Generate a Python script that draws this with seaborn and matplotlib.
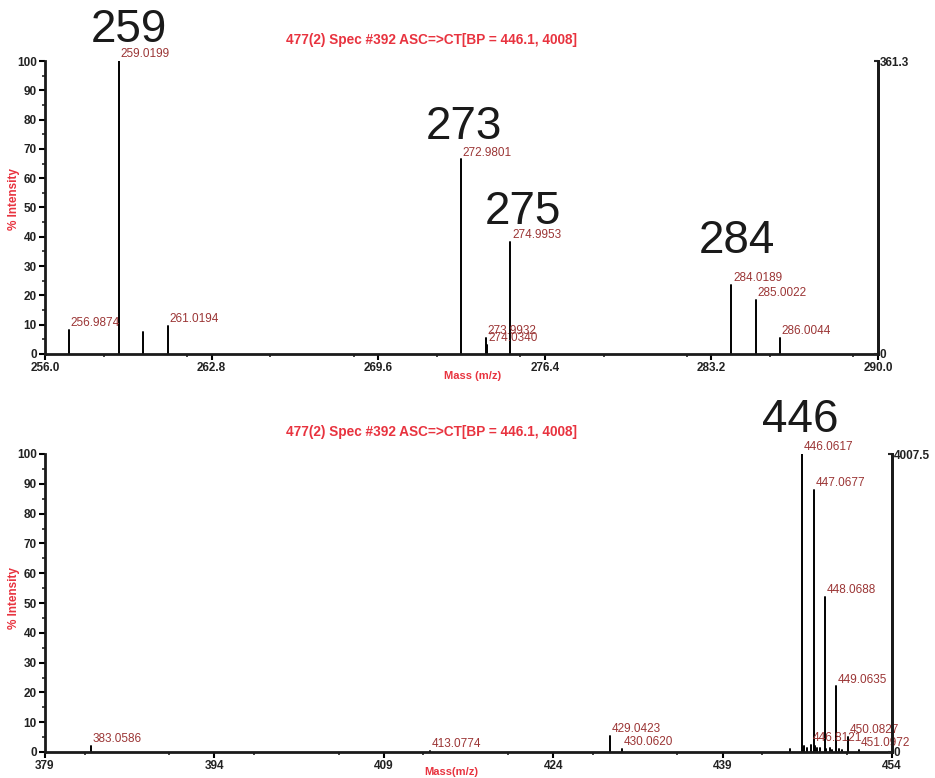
import numpy as np
import pandas as pd
import matplotlib
matplotlib.use("Agg")
import matplotlib.pyplot as plt
import seaborn as sns
from matplotlib.ticker import MultipleLocator

# top spectrum (m/z 256-290)
top_mz = [256.9874, 259.0199, 260.0, 261.0194, 272.9801, 273.9932, 274.0340,
          274.9953, 284.0189, 285.0022, 286.0044]
top_int = [8.2, 100, 7.5, 9.6, 66.4, 5.5, 3.0, 38.3, 23.5, 18.4, 5.4]
top_lab = ["256.9874", "259.0199", "", "261.0194", "272.9801", "273.9932", "274.0340",
           "274.9953", "284.0189", "285.0022", "286.0044"]
top_big = ["259", "273", "275", "284"]
top_big_x = [259.42, 273.09, 275.5, 284.23]
top_big_y = [110.5, 77.5, 48.5, 38.5]

# bottom spectrum (m/z 379-454)
bot_mz = [383.0586, 413.0774, 429.0423, 430.0620, 445.0, 446.0617, 446.2, 446.45,
          446.8121, 447.0677, 447.2, 447.4, 447.65, 448.0688, 448.2, 448.5, 448.7,
          449.0635, 449.35, 449.56, 450.0827, 451.0972]
bot_int = [2.0, 0.3, 5.5, 0.9, 1.0, 100, 2.0, 1.5, 2.5, 88, 2.0, 1.5, 1.3, 52,
           1.0, 1.5, 0.8, 22, 1.0, 0.6, 5.0, 0.8]
bot_lab = ["383.0586", "413.0774", "429.0423", "430.0620", "", "446.0617", "", "",
           "446.8121", "447.0677", "", "", "", "448.0688", "", "", "",
           "449.0635", "", "", "450.0827", "451.0972"]
bot_big = ["446"]
bot_big_x = [445.87]
bot_big_y = [111.5]

title = "477(2) Spec #392 ASC=>CT[BP = 446.1, 4008]"
red = "#e8333f"
lab_col = "#9b3535"

sns.set_style("white")
plt.rcParams["font.family"] = ["Liberation Sans", "DejaVu Sans"]

fig = plt.figure(figsize=(9.35, 7.78), dpi=100)


def stems(mz, inten):
    rows = []
    for i, (m, h) in enumerate(zip(mz, inten)):
        rows.append({"mz": m, "intensity": 0.0, "peak": i})
        rows.append({"mz": m, "intensity": h, "peak": i})
    return pd.DataFrame(rows)


def panel(rect, mz, inten, labs, big, bx, by, xlim, xmaj, xfmt, right_lab, xlabel, xl_x, xl_y, yl_y, t_y):
    ax = fig.add_axes(rect)
    df = stems(mz, inten)
    sns.lineplot(data=df, x="mz", y="intensity", units="peak", estimator=None,
                 color="black", linewidth=1.4, ax=ax, legend=False)
    ax.set_xlim(*xlim)
    ax.set_ylim(0, 100)
    ax.set_xlabel("")
    ax.set_ylabel("")
    for m, h, t in zip(mz, inten, labs):
        if t:
            ax.text(m + (xlim[1] - xlim[0]) * 0.002, h + 0.3, t, color=lab_col,
                    fontsize=8.5, ha="left", va="bottom")
    for t, x, y in zip(big, bx, by):
        ax.text(x, y, t, fontsize=33, ha="center", va="center", color="#1a1a1a",
                clip_on=False)
    ax.xaxis.set_minor_locator(MultipleLocator(xmaj / 2))
    ax.yaxis.set_major_locator(MultipleLocator(10))
    ax.yaxis.set_minor_locator(MultipleLocator(5))
    ticks = np.arange(xlim[0], xlim[1] + 0.01, xmaj)
    ax.set_xticks(ticks)
    ax.set_xticklabels([xfmt.format(v) for v in ticks])
    ax.tick_params(axis="both", which="major", direction="out", length=4, width=1.5,
                   labelsize=8.5, colors="black", pad=2, left=True, bottom=True)
    ax.tick_params(axis="both", which="minor", direction="out", length=2.5, width=1.2,
                   left=True, bottom=True)
    for lbl in ax.get_xticklabels() + ax.get_yticklabels():
        lbl.set_fontweight("bold")
        lbl.set_color("#222222")
    ax.spines["top"].set_visible(False)
    for s in ["left", "bottom", "right"]:
        ax.spines[s].set_linewidth(2)
        ax.spines[s].set_color("#1a1a1a")
    ax2 = ax.twinx()
    ax2.set_ylim(0, 100)
    ax2.set_yticks([0, 100])
    ax2.set_yticklabels(["0", right_lab])
    ax2.tick_params(axis="y", direction="in", length=3, width=1.5, labelsize=8.5, pad=1)
    for lbl in ax2.get_yticklabels():
        lbl.set_fontweight("bold")
        lbl.set_color("#222222")
    for s in ["top", "left", "bottom"]:
        ax2.spines[s].set_visible(False)
    ax2.spines["right"].set_linewidth(2)
    ax2.spines["right"].set_color("#1a1a1a")
    fig.text(xl_x / 935, 1 - xl_y / 778, xlabel, color=red, fontsize=8,
             fontweight="bold", ha="center", va="center")
    fig.text(14 / 935, 1 - yl_y / 778, "% Intensity", color=red, fontsize=8.5,
             fontweight="bold", ha="center", va="center", rotation=90)
    fig.text(432 / 935, 1 - t_y / 778, title, color=red, fontsize=9.8,
             fontweight="bold", ha="center", va="center")
    return ax


panel([45 / 935, 1 - 354 / 778, (878 - 45) / 935, (354 - 61) / 778],
      top_mz, top_int, top_lab, top_big, top_big_x, top_big_y,
      (256.0, 290.0), 6.8, "{:.1f}", "361.3", "Mass (m/z)", 473, 376, 199, 40)

panel([45 / 935, 1 - 752 / 778, (892 - 45) / 935, (752 - 454) / 778],
      bot_mz, bot_int, bot_lab, bot_big, bot_big_x, bot_big_y,
      (379, 454), 15, "{:.0f}", "4007.5", "Mass(m/z)", 451, 772, 598, 432)

fig.savefig("out.png", dpi=100)
